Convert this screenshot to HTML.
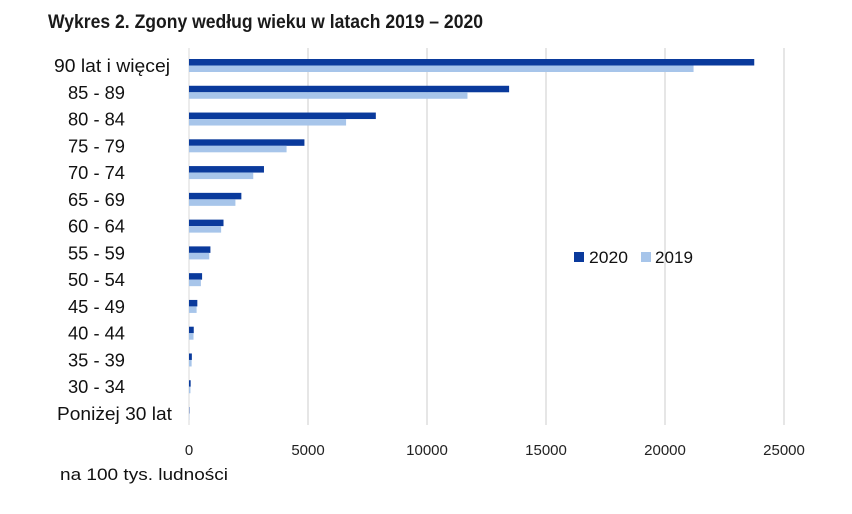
<!DOCTYPE html>
<html><head><meta charset="utf-8"><style>
body{margin:0;background:#fff;}
</style></head><body>
<svg width="852" height="509" xmlns="http://www.w3.org/2000/svg" font-family="Liberation Sans, sans-serif">
<rect width="852" height="509" fill="#fff"/>
<text x="48" y="28" font-size="19" font-weight="bold" fill="#1a1a1a" textLength="435" lengthAdjust="spacingAndGlyphs">Wykres 2. Zgony według wieku w latach 2019 – 2020</text>
<g stroke="#d9d9d9" stroke-width="1.3">
<line x1="308" y1="48" x2="308" y2="425"/>
<line x1="427" y1="48" x2="427" y2="425"/>
<line x1="546" y1="48" x2="546" y2="425"/>
<line x1="665" y1="48" x2="665" y2="425"/>
<line x1="784" y1="48" x2="784" y2="425"/>
</g>
<line x1="189" y1="48" x2="189" y2="425" stroke="#d9d9d9" stroke-width="1"/>
<g id="bars"></g>
<g font-size="18" fill="#111" id="labels"></g>
<g font-size="15" fill="#222" text-anchor="middle">
<text x="189" y="455">0</text><text x="308" y="455">5000</text><text x="427" y="455">10000</text>
<text x="546" y="455">15000</text><text x="665" y="455">20000</text><text x="784" y="455">25000</text>
</g>
<text x="60" y="480" font-size="17" fill="#111" textLength="168" lengthAdjust="spacingAndGlyphs">na 100 tys. ludności</text>
<rect x="574" y="252" width="10" height="10" fill="#0a3a9c"/>
<text x="589" y="263" font-size="17" fill="#111" textLength="39" lengthAdjust="spacingAndGlyphs">2020</text>
<rect x="641" y="252" width="10" height="10" fill="#a7c5ea"/>
<text x="655" y="263" font-size="17" fill="#111" textLength="38" lengthAdjust="spacingAndGlyphs">2019</text>
<script>
var L=["90 lat i więcej","85 - 89","80 - 84","75 - 79","70 - 74","65 - 69","60 - 64","55 - 59","50 - 54","45 - 49","40 - 44","35 - 39","30 - 34","Poniżej 30 lat"];
var a=[23750,13450,7850,4850,3150,2200,1450,900,550,350,200,120,70,15];
var b=[21200,11700,6600,4100,2700,1950,1350,850,500,320,190,110,60,12];
var ns="http://www.w3.org/2000/svg",g=document.getElementById("bars"),t=document.getElementById("labels");
for(var i=0;i<14;i++){var c=63+i*26.77;
var r=document.createElementNS(ns,"rect");r.setAttribute("x",189);r.setAttribute("y",c-4);r.setAttribute("width",a[i]*119/5000);r.setAttribute("height",6.5);r.setAttribute("fill","#0a3a9c");g.appendChild(r);
r=document.createElementNS(ns,"rect");r.setAttribute("x",189);r.setAttribute("y",c+2.5);r.setAttribute("width",b[i]*119/5000);r.setAttribute("height",6.5);r.setAttribute("fill","#a7c5ea");g.appendChild(r);
var tx=document.createElementNS(ns,"text");tx.setAttribute("y",c+9);
if(i==0){tx.setAttribute("x",54);tx.setAttribute("textLength",116);tx.setAttribute("lengthAdjust","spacingAndGlyphs");}
else if(i==13){tx.setAttribute("x",57);tx.setAttribute("textLength",115);tx.setAttribute("lengthAdjust","spacingAndGlyphs");}
else{tx.setAttribute("x",68);tx.setAttribute("textLength",57);tx.setAttribute("lengthAdjust","spacingAndGlyphs");}
tx.textContent=L[i];t.appendChild(tx);}
</script>
</svg>
</body></html>
